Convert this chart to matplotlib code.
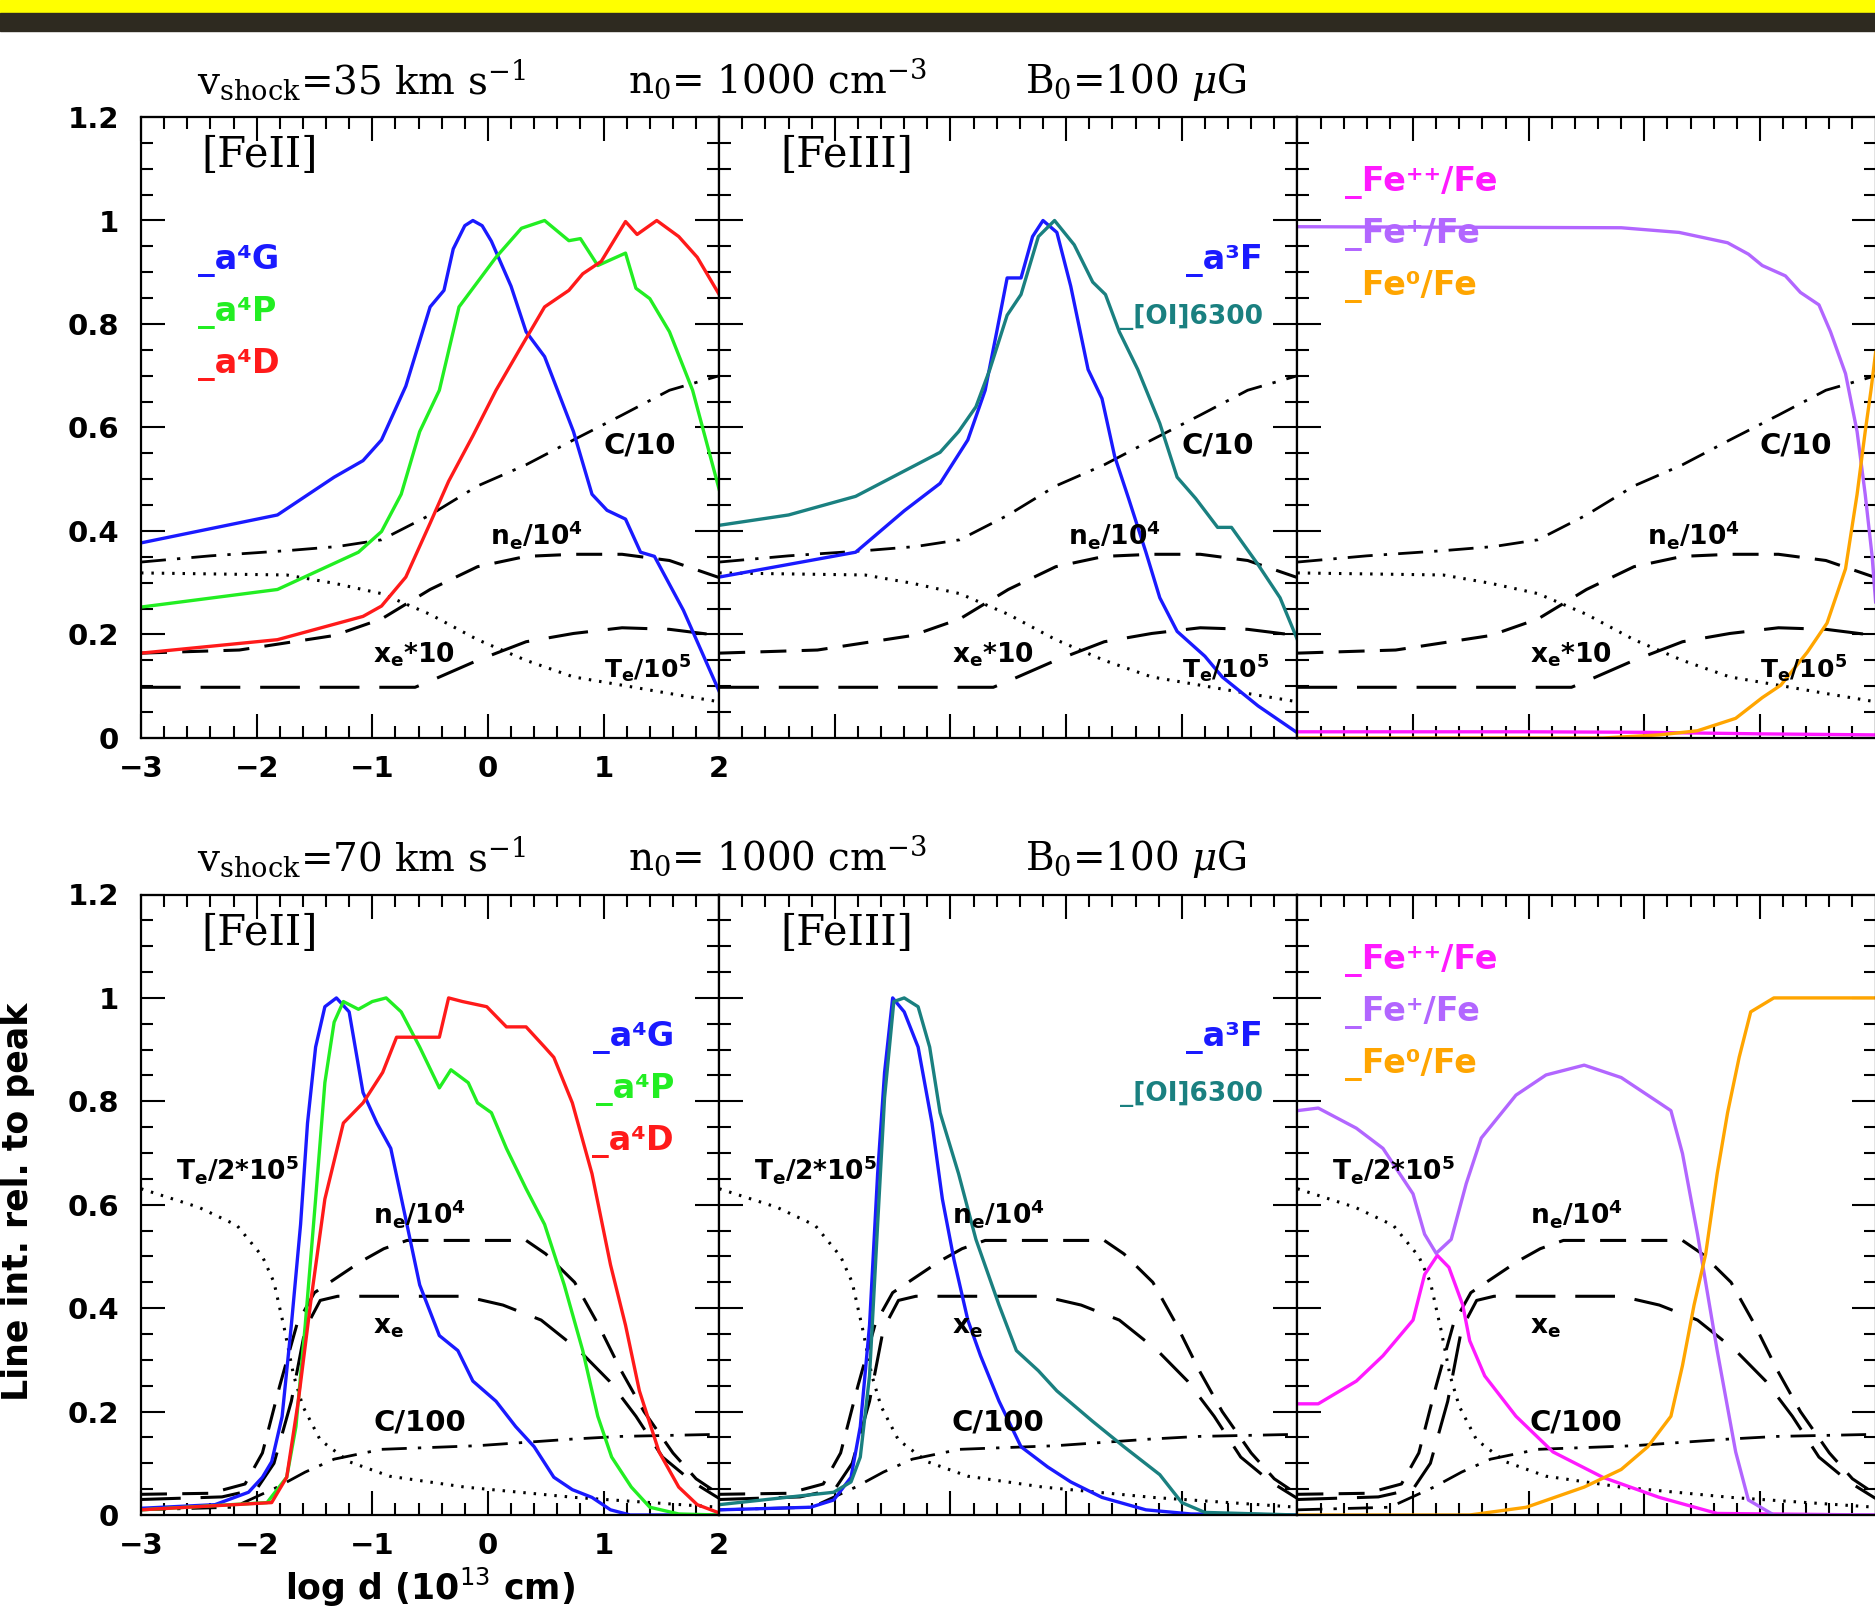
import matplotlib.pyplot as plt
from matplotlib.patches import Rectangle
from matplotlib.ticker import MultipleLocator, FuncFormatter

# ---------------- v_shock = 35 km/s (top row) ----------------
# physical profiles (same in the three panels)
c35_x = [-3, -2.4, -1.74, -1.3, -0.92, -0.5, -0.09, 0.33, 0.74, 1.16, 1.57, 2.0]
c35_y = [0.34, 0.352, 0.362, 0.37, 0.383, 0.431, 0.487, 0.528, 0.576, 0.624, 0.672, 0.70]
ne35_x = [-3, -2.15, -1.33, -0.92, -0.5, -0.09, 0.33, 0.74, 1.16, 1.57, 2.0]
ne35_y = [0.164, 0.17, 0.198, 0.23, 0.287, 0.331, 0.351, 0.355, 0.355, 0.343, 0.31]
xe35_x = [-3, -0.63, -0.5, -0.09, 0.33, 0.74, 1.16, 1.57, 2.0]
xe35_y = [0.098, 0.098, 0.11, 0.15, 0.186, 0.202, 0.213, 0.21, 0.198]
te35_x = [-3, -1.74, -1.33, -0.92, -0.5, -0.09, 0.33, 0.74, 1.16, 1.57, 2.0]
te35_y = [0.319, 0.315, 0.299, 0.279, 0.239, 0.19, 0.15, 0.118, 0.102, 0.086, 0.07]

# [FeII]
a4g35_x = [-3, -1.82, -1.33, -1.08, -0.92, -0.71, -0.5, -0.38, -0.3, -0.2, -0.13, -0.05,
           0.03, 0.2, 0.33, 0.49, 0.74, 0.9, 1.03, 1.19, 1.32, 1.44, 1.69, 2.0]
a4g35_y = [0.377, 0.431, 0.504, 0.536, 0.576, 0.68, 0.833, 0.865, 0.945, 0.99, 1.0, 0.99,
           0.96, 0.873, 0.785, 0.737, 0.592, 0.471, 0.44, 0.423, 0.359, 0.351, 0.247, 0.09]
a4p35_x = [-3, -1.82, -1.12, -0.92, -0.75, -0.59, -0.42, -0.25, -0.09, 0.07, 0.29, 0.49,
           0.7, 0.8, 0.95, 1.19, 1.28, 1.4, 1.57, 1.77, 2.0]
a4p35_y = [0.253, 0.287, 0.359, 0.399, 0.471, 0.592, 0.672, 0.833, 0.881, 0.929, 0.985, 1.0,
           0.961, 0.965, 0.913, 0.937, 0.869, 0.849, 0.785, 0.672, 0.48]
a4d35_x = [-3, -1.82, -1.08, -0.92, -0.71, -0.5, -0.34, -0.13, 0.07, 0.28, 0.49, 0.7,
           0.82, 0.98, 1.19, 1.29, 1.46, 1.65, 1.81, 2.0]
a4d35_y = [0.164, 0.19, 0.235, 0.255, 0.311, 0.415, 0.496, 0.584, 0.672, 0.753, 0.833, 0.865,
           0.897, 0.921, 0.998, 0.973, 1.0, 0.969, 0.929, 0.857]

# [FeIII] and [OI]
a3f35_x = [-3, -1.82, -1.4, -1.09, -0.85, -0.7, -0.6, -0.51, -0.39, -0.29, -0.2, -0.08, 0.04,
           0.19, 0.31, 0.42, 0.54, 0.69, 0.81, 0.96, 1.2, 1.35, 1.66, 2.0]
a3f35_y = [0.311, 0.359, 0.439, 0.492, 0.576, 0.672, 0.785, 0.889, 0.889, 0.969, 1.0, 0.977,
           0.873, 0.712, 0.656, 0.544, 0.463, 0.359, 0.271, 0.206, 0.158, 0.118, 0.062, 0.01]
oi35_x = [-3, -2.4, -1.82, -1.09, -0.93, -0.78, -0.66, -0.51, -0.39, -0.24, -0.1, 0.07, 0.23,
          0.34, 0.46, 0.62, 0.81, 0.96, 1.12, 1.31, 1.43, 1.66, 1.85, 2.0]
oi35_y = [0.411, 0.431, 0.467, 0.552, 0.592, 0.64, 0.712, 0.817, 0.857, 0.969, 1.0, 0.953,
          0.881, 0.857, 0.785, 0.712, 0.608, 0.504, 0.463, 0.407, 0.407, 0.335, 0.271, 0.19]

# ionisation fractions
fepp35_x = [-3, -1.0, 0.0, 1.0, 2.0]
fepp35_y = [0.012, 0.012, 0.011, 0.008, 0.006]
fep35_x = [-3, -0.2, 0.3, 0.72, 0.9, 1.02, 1.22, 1.35, 1.51, 1.61, 1.74, 1.84, 1.91, 1.97, 2.0]
fep35_y = [0.988, 0.986, 0.977, 0.957, 0.935, 0.913, 0.893, 0.861, 0.837, 0.785, 0.704,
           0.592, 0.471, 0.351, 0.263]
fe035_x = [-3, -0.36, 0.13, 0.46, 0.79, 1.02, 1.18, 1.41, 1.58, 1.74, 1.84, 1.91, 1.96, 2.0]
fe035_y = [0.0, 0.0, 0.006, 0.014, 0.038, 0.078, 0.102, 0.166, 0.222, 0.327, 0.471, 0.592,
           0.672, 0.745]

# ---------------- v_shock = 70 km/s (bottom row) ----------------
c70_x = [-3, -2.2, -1.82, -1.58, -1.33, -0.92, -0.09, 0.74, 1.15, 2.0]
c70_y = [0.01, 0.015, 0.054, 0.083, 0.108, 0.127, 0.134, 0.147, 0.152, 0.156]
ne70_x = [-3, -2.4, -2.1, -1.95, -1.8, -1.65, -1.5, -1.3, -1.1, -0.9, -0.7, 0.33, 0.5, 0.75,
          0.95, 1.15, 1.35, 1.6, 1.8, 2.0]
ne70_y = [0.04, 0.042, 0.06, 0.12, 0.25, 0.37, 0.43, 0.46, 0.49, 0.515, 0.531, 0.531, 0.505,
          0.45, 0.37, 0.28, 0.2, 0.12, 0.07, 0.04]
xe70_x = [-3, -2.3, -2.0, -1.85, -1.7, -1.58, -1.45, -1.3, -0.2, 0.13, 0.46, 0.79, 1.05,
          1.28, 1.51, 1.77, 2.0]
xe70_y = [0.03, 0.035, 0.05, 0.1, 0.22, 0.36, 0.415, 0.423, 0.423, 0.406, 0.377, 0.318,
          0.259, 0.191, 0.112, 0.064, 0.032]
te70_x = [-3, -2.5, -2.17, -1.95, -1.85, -1.76, -1.68, -1.6, -1.45, -1.2, -0.85, -0.2, 0.75, 2.0]
te70_y = [0.631, 0.595, 0.56, 0.5, 0.45, 0.36, 0.27, 0.21, 0.145, 0.103, 0.075, 0.054,
          0.034, 0.015]

a4g70_x = [-3, -2.36, -2.07, -1.95, -1.87, -1.78, -1.7, -1.62, -1.56, -1.49, -1.41, -1.31,
           -1.2, -1.08, -0.96, -0.84, -0.71, -0.59, -0.42, -0.26, -0.13, 0.07, 0.24, 0.4,
           0.57, 0.73, 0.9, 1.06, 1.23, 2.0]
a4g70_y = [0.013, 0.02, 0.044, 0.073, 0.103, 0.19, 0.367, 0.562, 0.758, 0.905, 0.983, 1.0,
           0.973, 0.817, 0.758, 0.709, 0.572, 0.445, 0.347, 0.318, 0.259, 0.22, 0.171, 0.132,
           0.073, 0.049, 0.034, 0.01, 0.0, 0.0]
a4p70_x = [-3, -1.91, -1.74, -1.66, -1.58, -1.49, -1.41, -1.33, -1.25, -1.12, -1.0, -0.88,
           -0.75, -0.59, -0.42, -0.32, -0.17, -0.09, 0.03, 0.16, 0.33, 0.49, 0.66, 0.82, 0.95,
           1.07, 1.24, 1.4, 1.65, 2.0]
a4p70_y = [0.01, 0.024, 0.073, 0.171, 0.367, 0.611, 0.836, 0.953, 0.993, 0.978, 0.993, 1.0,
           0.973, 0.905, 0.826, 0.861, 0.836, 0.797, 0.778, 0.709, 0.631, 0.562, 0.445, 0.318,
           0.191, 0.112, 0.054, 0.015, 0.002, 0.0]
a4d70_x = [-3, -1.87, -1.74, -1.64, -1.53, -1.41, -1.25, -1.08, -0.91, -0.79, -0.67, -0.42,
           -0.34, -0.22, -0.01, 0.16, 0.33, 0.49, 0.57, 0.73, 0.9, 1.06, 1.19, 1.31, 1.48,
           1.65, 1.81, 2.0]
a4d70_y = [0.01, 0.024, 0.073, 0.22, 0.416, 0.611, 0.758, 0.797, 0.856, 0.924, 0.924, 0.924,
           1.0, 0.993, 0.983, 0.944, 0.944, 0.905, 0.885, 0.797, 0.66, 0.484, 0.367, 0.24,
           0.122, 0.054, 0.02, 0.004]

a3f70_x = [-3, -2.21, -2.01, -1.86, -1.78, -1.7, -1.63, -1.57, -1.5, -1.4, -1.28, -1.16,
           -1.07, -0.97, -0.85, -0.74, -0.58, -0.39, -0.16, 0.04, 0.31, 0.69, 1.08, 2.0]
a3f70_y = [0.01, 0.015, 0.029, 0.073, 0.171, 0.367, 0.66, 0.856, 1.0, 0.973, 0.905, 0.758,
           0.611, 0.494, 0.377, 0.308, 0.22, 0.132, 0.093, 0.064, 0.034, 0.01, 0.002, 0.0]
oi70_x = [-3, -2.01, -1.86, -1.78, -1.7, -1.63, -1.57, -1.49, -1.4, -1.28, -1.18, -1.09,
          -0.93, -0.78, -0.58, -0.43, -0.24, -0.08, 0.23, 0.5, 0.81, 1.0, 1.2, 2.0]
oi70_y = [0.02, 0.044, 0.064, 0.112, 0.269, 0.562, 0.807, 0.993, 1.0, 0.983, 0.905, 0.778,
          0.66, 0.533, 0.406, 0.318, 0.279, 0.24, 0.181, 0.132, 0.078, 0.024, 0.005, 0.0]

fepp70_x = [-3, -2.82, -2.49, -2.26, -2.0, -1.9, -1.79, -1.69, -1.57, -1.51, -1.38, -1.11,
            -0.79, -0.36, 0.13, 0.63, 2.0]
fepp70_y = [0.215, 0.215, 0.259, 0.308, 0.377, 0.465, 0.502, 0.479, 0.406, 0.337, 0.269,
            0.191, 0.122, 0.073, 0.034, 0.003, 0.0]
fep70_x = [-3, -2.82, -2.49, -2.26, -2.0, -1.9, -1.8, -1.67, -1.54, -1.41, -1.11, -0.85,
           -0.52, -0.2, 0.13, 0.23, 0.33, 0.46, 0.63, 0.79, 0.9, 1.12, 2.0]
fep70_y = [0.782, 0.787, 0.748, 0.709, 0.621, 0.543, 0.506, 0.533, 0.641, 0.729, 0.812, 0.851,
           0.87, 0.846, 0.797, 0.782, 0.699, 0.543, 0.318, 0.122, 0.029, 0.0, 0.0]
fe070_x = [-3, -1.51, -1.02, -0.52, -0.2, 0.03, 0.23, 0.33, 0.43, 0.53, 0.63, 0.72, 0.82,
           0.92, 1.12, 2.0]
fe070_y = [0.0, 0.0, 0.015, 0.054, 0.088, 0.132, 0.191, 0.289, 0.406, 0.504, 0.66, 0.778,
           0.885, 0.973, 1.0, 1.0]

# title pieces
shock_speeds = [35, 70]
title_parts = [r'v$_{\rm shock}$=%d km s$^{-1}$', r'n$_0$= 1000 cm$^{-3}$', r'B$_0$=100 $\mu$G']

# colours
BLUE, GREEN, RED = '#1a1aff', '#22ee22', '#ff1a1a'
TEAL, MAGENTA, PURPLE, ORANGE = '#1a8080', '#ff1aff', '#b266ff', '#ffa500'

SANS = 'DejaVu Sans'
SERIF = 'DejaVu Serif'

fig = plt.figure(figsize=(18.75, 16.12), dpi=100)
W, H = 1875.0, 1612.0

# banner stripes at the top
fig.patches.append(Rectangle((0, 1 - 13 / H), 1, 13 / H, transform=fig.transFigure,
                             color='#ffff00', zorder=0))
fig.patches.append(Rectangle((0, 1 - 31 / H), 1, 18 / H, transform=fig.transFigure,
                             color='#2e2a20', zorder=0))

col_left = [141, 719.2, 1297.4]
col_w = 578.2
rows = [(117, 738), (894.5, 1515)]


def make_ax(row, col):
    top, bot = rows[row]
    ax = fig.add_axes([col_left[col] / W, 1 - bot / H, col_w / W, (bot - top) / H])
    ax.set_xlim(-3, 2)
    ax.set_ylim(0, 1.2)
    ax.xaxis.set_major_locator(MultipleLocator(1))
    ax.xaxis.set_minor_locator(MultipleLocator(0.2))
    ax.yaxis.set_major_locator(MultipleLocator(0.2))
    ax.yaxis.set_minor_locator(MultipleLocator(0.05))
    ax.tick_params(which='both', direction='in', top=True, right=True, width=1.5)
    ax.tick_params(which='major', length=17)
    ax.tick_params(which='minor', length=8.5)
    ax.tick_params(axis='y', pad=16)
    ax.tick_params(axis='x', pad=12)
    for sp in ax.spines.values():
        sp.set_linewidth(1.6)
    if col == 0:
        ax.yaxis.set_major_formatter(FuncFormatter(lambda v, p: '{:g}'.format(round(v, 2))))
        ax.xaxis.set_major_formatter(
            FuncFormatter(lambda v, p: '{:g}'.format(round(v, 2)).replace('-', '\u2212')))
        for lab in ax.get_xticklabels() + ax.get_yticklabels():
            lab.set_fontfamily(SANS)
            lab.set_fontweight('bold')
            lab.set_fontsize(21)
    else:
        ax.set_xticklabels([])
        ax.set_yticklabels([])
    return ax


def diagnostics(ax, cx, cy, nx, ny, xx, xy, tx, ty):
    ax.plot(cx, cy, color='k', lw=2.0, dashes=(9, 4, 1.2, 4))
    ax.plot(nx, ny, color='k', lw=2.2, dashes=(8.5, 5))
    ax.plot(xx, xy, color='k', lw=2.2, dashes=(13, 6.5))
    ax.plot(tx, ty, color='k', lw=2.2, dashes=(0.8, 2.6))


def label(ax, x, y, s, color='k', size=20, ha='left', family=SANS, weight='bold'):
    ax.text(x, y, s, color=color, fontsize=size, ha=ha, va='center', family=family,
            fontweight=weight, math_fontfamily='dejavusans')


LW = 2.4
rowdata = [
    dict(c=(c35_x, c35_y), n=(ne35_x, ne35_y), x=(xe35_x, xe35_y), t=(te35_x, te35_y),
         a4g=(a4g35_x, a4g35_y), a4p=(a4p35_x, a4p35_y), a4d=(a4d35_x, a4d35_y),
         a3f=(a3f35_x, a3f35_y), oi=(oi35_x, oi35_y),
         fepp=(fepp35_x, fepp35_y), fep=(fep35_x, fep35_y), fe0=(fe035_x, fe035_y)),
    dict(c=(c70_x, c70_y), n=(ne70_x, ne70_y), x=(xe70_x, xe70_y), t=(te70_x, te70_y),
         a4g=(a4g70_x, a4g70_y), a4p=(a4p70_x, a4p70_y), a4d=(a4d70_x, a4d70_y),
         a3f=(a3f70_x, a3f70_y), oi=(oi70_x, oi70_y),
         fepp=(fepp70_x, fepp70_y), fep=(fep70_x, fep70_y), fe0=(fe070_x, fe070_y)),
]

for r, d in enumerate(rowdata):
    axes = [make_ax(r, c) for c in range(3)]
    for ax in axes:
        diagnostics(ax, *d['c'], *d['n'], *d['x'], *d['t'])
        if r == 0:
            label(ax, 1.0, 0.566, 'C/10', size=21)
            label(ax, 0.02, 0.393, r'$\mathbf{n_e/10^4}$', size=19)
            label(ax, -0.99, 0.16, r'$\mathbf{x_e}$*10', size=19)
            label(ax, 1.0, 0.132, r'$\mathbf{T_e/10^5}$', size=18)
        else:
            label(ax, -2.7, 0.668, r'$\mathbf{T_e/2}$*10$^\mathbf{5}$', size=19)
            label(ax, -0.99, 0.583, r'$\mathbf{n_e/10^4}$', size=19)
            label(ax, -0.99, 0.363, r'$\mathbf{x_e}$', size=19)
            label(ax, -0.99, 0.178, 'C/100', size=21)

    ax0, ax1, ax2 = axes
    ax0.plot(*d['a4g'], color=BLUE, lw=LW)
    ax0.plot(*d['a4p'], color=GREEN, lw=LW)
    ax0.plot(*d['a4d'], color=RED, lw=LW)
    ax1.plot(*d['a3f'], color=BLUE, lw=LW)
    ax1.plot(*d['oi'], color=TEAL, lw=LW)
    ax2.plot(*d['fepp'], color=MAGENTA, lw=LW)
    ax2.plot(*d['fep'], color=PURPLE, lw=LW)
    ax2.plot(*d['fe0'], color=ORANGE, lw=LW)

    label(ax0, -2.48, 1.126, '[FeII]', size=30, family=SERIF, weight='normal')
    label(ax1, -2.47, 1.126, '[FeIII]', size=30, family=SERIF, weight='normal')

    if r == 0:
        lx, lha = -2.51, 'left'
    else:
        lx, lha = 1.61, 'right'
    label(ax0, lx, 0.923, '_a\u2074G', BLUE, 24, lha)
    label(ax0, lx, 0.823, '_a\u2074P', GREEN, 24, lha)
    label(ax0, lx, 0.722, '_a\u2074D', RED, 24, lha)
    label(ax1, 1.7, 0.923, '_a\u00b3F', BLUE, 24, 'right')
    label(ax1, 1.7, 0.814, '_[OI]6300', TEAL, 19, 'right')
    label(ax2, -2.59, 1.073, '_Fe\u207a\u207a/Fe', MAGENTA, 24)
    label(ax2, -2.59, 0.972, '_Fe\u207a/Fe', PURPLE, 24)
    label(ax2, -2.59, 0.872, '_Fe\u2070/Fe', ORANGE, 24)

# titles, three pieces each, spread out like the original
part_x = [197, 628, 1025]
for ytitle, v in zip([93, 870], shock_speeds):
    for px, part in zip(part_x, title_parts):
        s = part % v if '%d' in part else part
        fig.text(px / W, 1 - ytitle / H, s, fontsize=28, family=SERIF, ha='left',
                 va='baseline', math_fontfamily='dejavuserif')

fig.text(18 / W, 1 - 1202 / H, 'Line int. rel. to peak', rotation=90, fontsize=25,
         family=SANS, fontweight='bold', ha='center', va='center')
fig.text(430 / W, 3 / H, r'log d (10$^{13}$ cm)', fontsize=25, family=SANS,
         fontweight='bold', ha='center', va='bottom', math_fontfamily='dejavusans')

fig.savefig('out.png', dpi=100)
